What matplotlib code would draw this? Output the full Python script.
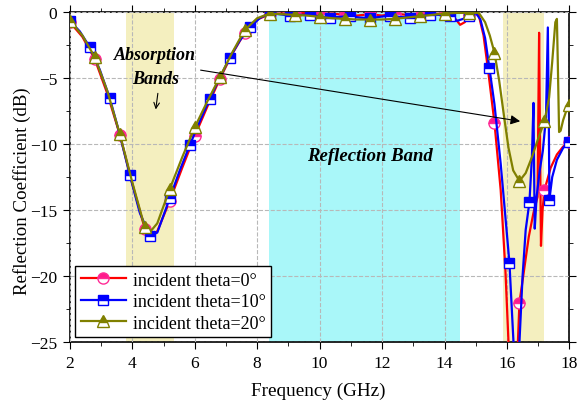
import matplotlib
matplotlib.use("Agg")
import matplotlib.pyplot as plt
from matplotlib.lines import Line2D
import numpy as np

plt.rcParams['font.family'] = ['Liberation Serif', 'DejaVu Serif']

# theta = 0 deg (red)
f0 = [2.0, 2.4, 2.8, 3.2, 3.6, 4.0, 4.4, 4.6, 4.8, 5.2, 5.6, 6.0, 6.4, 6.8, 7.2, 7.6, 8.0, 8.4,
      8.8, 9.2, 9.6, 10.0, 10.4, 10.8, 11.2, 11.6, 12.0, 12.4, 12.8, 13.2, 13.6, 14.0, 14.3, 14.5,
      14.65, 14.8, 15.0, 15.1, 15.25, 15.4, 15.6, 15.8, 15.95, 16.05, 16.25, 16.35, 16.4, 16.55,
      16.7, 16.85, 16.98, 17.03, 17.06, 17.09, 17.14, 17.2, 17.4, 17.6, 17.8, 18.0]
r0 = [-0.8, -1.9, -3.6, -6.2, -9.3, -13.0, -16.4, -17.0, -16.6, -14.3, -11.8, -9.4, -7.2, -5.1, -3.2, -1.6, -0.6, -0.2,
      -0.15, -0.15, -0.1, -0.2, -0.15, -0.25, -0.3, -0.2, -0.3, -0.15, -0.25, -0.3, -0.2, -0.15, -0.4, -1.0,
      -0.8, -0.25, -0.1, -0.3, -1.8, -4.5, -8.4, -13.5, -19.5, -25.0, -28.0, -25.0, -22.0, -19.5,
      -17.0, -15.2, -14.0, -1.6, -10.0, -17.7, -15.0, -13.5, -11.8, -10.8, -10.2, -9.85]

# theta = 10 deg (blue)
f10 = [2.0, 2.32, 2.64, 2.96, 3.28, 3.6, 3.92, 4.24, 4.56, 4.8, 5.2, 5.52, 5.84, 6.16, 6.48, 6.8, 7.12,
       7.44, 7.76, 8.08, 8.4, 8.72, 9.04, 9.36, 9.68, 10.0, 10.32, 10.64, 10.96, 11.28, 11.6, 11.92,
       12.24, 12.56, 12.88, 13.2, 13.52, 13.84, 14.16, 14.4, 14.6, 14.8, 15.0, 15.15, 15.3, 15.44,
       15.6, 15.8, 15.95, 16.08, 16.21, 16.3, 16.4, 16.5, 16.6, 16.72, 16.8, 16.85, 16.87, 16.89,
       16.95, 17.05, 17.15, 17.25, 17.31, 17.34, 17.36, 17.45, 17.6, 17.8, 18.0]
r10 = [-0.7, -1.5, -2.7, -4.4, -6.55, -9.3, -12.35, -15.2, -16.95, -16.7, -14.1, -12.0, -10.1, -8.3, -6.6, -5.0, -3.5,
       -2.2, -1.2, -0.5, -0.1, -0.2, -0.3, -0.25, -0.25, -0.35, -0.45, -0.4, -0.35, -0.45, -0.5, -0.4,
       -0.3, -0.4, -0.45, -0.35, -0.25, -0.25, -0.3, -0.7, -0.55, -0.3, -0.1, -0.6, -2.0, -4.3,
       -7.0, -11.5, -15.5, -19.0, -25.0, -28.0, -25.0, -20.0, -16.5, -14.4, -11.0, -6.9, -12.0, -16.4,
       -14.0, -12.0, -10.5, -8.0, -1.2, -8.0, -14.2, -12.5, -11.2, -10.3, -9.85]

# theta = 20 deg (olive)
f20 = [2.0, 2.4, 2.8, 3.2, 3.6, 4.0, 4.4, 4.55, 4.8, 5.2, 5.6, 6.0, 6.4, 6.8, 7.2, 7.6, 8.0, 8.4,
       8.8, 9.2, 9.6, 10.0, 10.4, 10.8, 11.2, 11.6, 12.0, 12.4, 12.8, 13.2, 13.6, 14.0, 14.4, 14.8,
       15.1, 15.3, 15.45, 15.6, 15.75, 15.9, 16.05, 16.2, 16.4, 16.6, 16.8, 17.0, 17.2, 17.35, 17.45,
       17.55, 17.6, 17.63, 17.67, 17.72, 17.8, 17.9, 18.0]
r20 = [-0.7, -1.8, -3.45, -6.0, -9.25, -12.9, -16.3, -16.7, -16.0, -13.4, -11.0, -8.75, -6.8, -4.97, -3.1, -1.4, -0.5, -0.15,
       -0.2, -0.25, -0.3, -0.4, -0.5, -0.55, -0.6, -0.6, -0.6, -0.55, -0.45, -0.35, -0.25, -0.15, -0.1, -0.1,
       -0.1, -0.8, -1.8, -3.1, -5.2, -7.8, -10.3, -12.0, -12.8, -12.2, -11.0, -9.6, -8.3, -6.5, -3.8,
       -0.8, -0.55, -4.0, -9.1, -9.0, -8.2, -7.5, -7.05]

# marker spacing (GHz)
mk_step_0 = 0.8
mk_step_10 = 0.64
mk_step_20 = 0.8

absorb_bands = [(3.8, 5.35), (15.88, 17.2)]
reflect_band = (8.37, 14.51)


def mark_idx(freqs, step):
    fr = np.array(freqs)
    k = (fr - 2.0) / step
    return list(np.where(np.abs(k - np.round(k)) < 1e-6)[0])


fig = plt.figure(figsize=(5.87, 4.06), dpi=100)
ax = fig.add_axes([0.119, 0.154, 0.851, 0.815])

for a, b in absorb_bands:
    ax.axvspan(a, b, color='#f4efbf', zorder=0, lw=0)
ax.axvspan(*reflect_band, color='#a9f7f9', zorder=0, lw=0)

ax.plot(f0, r0, color='red', lw=1.6, marker='o', ms=8, fillstyle='top',
        markerfacecolor='#ff1a8c', markerfacecoloralt='white', markeredgecolor='#ff2b95',
        mew=1.0, markevery=mark_idx(f0, mk_step_0), zorder=3)
ax.plot(f10, r10, color='blue', lw=1.6, marker='s', ms=7.5, fillstyle='top',
        markerfacecolor='blue', markerfacecoloralt='white', markeredgecolor='blue',
        mew=1.0, markevery=mark_idx(f10, mk_step_10), zorder=4)
ax.plot(f20, r20, color='#808000', lw=1.6, marker='^', ms=9, fillstyle='top',
        markerfacecolor='#808000', markerfacecoloralt='white', markeredgecolor='#808000',
        mew=1.0, markevery=mark_idx(f20, mk_step_20), zorder=5)

ax.set_xlim(2, 18)
ax.set_ylim(-25, 0)
ax.set_xticks(np.arange(2, 19, 2))
ax.set_xticks(np.arange(3, 18, 2), minor=True)
ax.set_yticks(np.arange(-25, 1, 5))
ax.set_yticks(np.arange(-22.5, 0, 5), minor=True)
ax.tick_params(which='both', direction='out', top=True, right=True, labelsize=12.5)
ax.tick_params(which='major', length=5, pad=4)
ax.tick_params(which='minor', length=3)
ax.grid(True, which='major', ls='--', color='#b8b8b8', lw=0.8)
ax.set_axisbelow(False)
for s in ax.spines.values():
    s.set_linewidth(1.2)

ax.set_xlabel('Frequency (GHz)', fontsize=13.8, va='center')
ax.xaxis.set_label_coords(0.497, -0.146)
ax.set_ylabel('Reflection Coefficient (dB)', fontsize=13.6, va='center')
ax.yaxis.set_label_coords(-0.095, 0.459)

ax.text(4.74, -3.25, 'Absorption', fontsize=13, fontweight='bold', fontstyle='italic',
        ha='center', va='center', zorder=6)
ax.text(4.74, -5.05, 'Bands', fontsize=13, fontweight='bold', fontstyle='italic',
        ha='center', va='center', zorder=6)
ax.annotate('', xy=(4.74, -7.6), xytext=(4.83, -5.97),
            arrowprops=dict(arrowstyle='->', color='black', lw=0.8), zorder=6)
ax.annotate('', xy=(16.51, -8.32), xytext=(6.1, -4.39),
            arrowprops=dict(arrowstyle='-|>', color='black', lw=0.8, mutation_scale=14), zorder=6)
ax.text(11.6, -10.9, 'Reflection Band', fontsize=13.5, fontweight='bold', fontstyle='italic',
        ha='center', va='center', zorder=6)

handles = [
    Line2D([], [], color='red', lw=1.6, marker='o', ms=8, fillstyle='top',
           markerfacecolor='#ff1a8c', markerfacecoloralt='white', markeredgecolor='#ff2b95'),
    Line2D([], [], color='blue', lw=1.6, marker='s', ms=7.5, fillstyle='top',
           markerfacecolor='blue', markerfacecoloralt='white', markeredgecolor='blue'),
    Line2D([], [], color='#808000', lw=1.6, marker='^', ms=9, fillstyle='top',
           markerfacecolor='#808000', markerfacecoloralt='white', markeredgecolor='#808000'),
]
labels = ['incident theta=0°', 'incident theta=10°', 'incident theta=20°']
leg = ax.legend(handles, labels, loc='lower left', fontsize=13, fancybox=False,
                edgecolor='black', framealpha=1, handlelength=2.5, labelspacing=0.25,
                borderaxespad=0.3, borderpad=0.3, handletextpad=0.4)
leg.get_frame().set_linewidth(1.0)
leg.set_zorder(10)

fig.savefig('out.png', dpi=100)
